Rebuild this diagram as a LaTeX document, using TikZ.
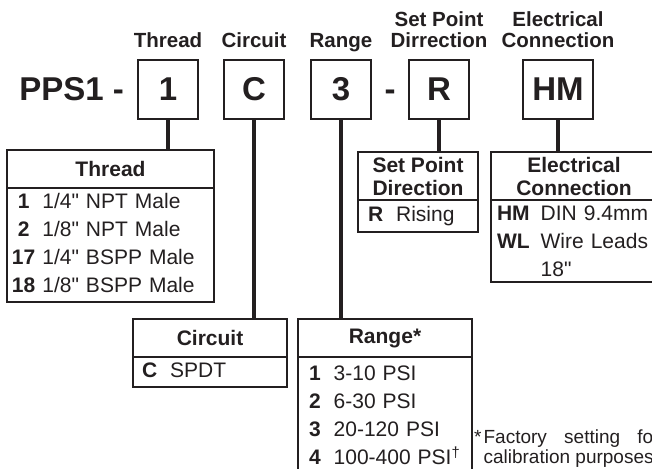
\documentclass[tikz,border=0pt]{standalone}
\usepackage{fontspec}
\setmainfont{Liberation Sans}[Ligatures=TeXOff]
\usepackage{array}
\usetikzlibrary{positioning,calc}
\definecolor{ink}{RGB}{35,31,32}

\begin{document}
\begin{tikzpicture}[x=1pt, y=-1pt, color=ink,
    codebox/.style={rectangle, draw, line width=2pt, minimum width=60pt, minimum height=59pt, inner sep=0pt, font=\fontsize{33}{33}\selectfont\bfseries},
    toplabel/.style={align=center, inner sep=0pt, text depth=0pt, font=\fontsize{20.5}{21}\selectfont\bfseries},
    tablehead/.style={rectangle, draw, line width=2pt, outer sep=0pt, minimum height=38pt, align=center, anchor=north west, font=\fontsize{21}{23}\selectfont\bfseries},
    tablebody/.style={rectangle, draw, line width=2pt, outer sep=0pt, inner ysep=1pt, align=left, anchor=north west, font=\fontsize{21}{28}\selectfont},
    connector/.style={draw, line width=4.5pt}]

    \useasboundingbox (0,0) rectangle (652,468);
    \clip (0,0) rectangle (652,468);

    % part number boxes
    \node [codebox] (bthread) at (168,89.5) {1};
    \node [codebox, right=24pt of bthread] (bcircuit) {C};
    \node [codebox, right=25pt of bcircuit] (brange) {3};
    \node [codebox, right=36pt of brange] (bsetpoint) {R};
    \node [codebox, minimum width=70pt, right=52pt of bsetpoint] (belec) {HM};
    \node [inner sep=0pt, left=13pt of bthread, font=\fontsize{33}{33}\selectfont\bfseries] (model) {PPS1 -};
    \node [inner sep=0pt, anchor=base, font=\fontsize{33}{33}\selectfont\bfseries] (dash)
        at ($(brange.base east)!0.5!(bsetpoint.base west)$) {-};

    \node [toplabel, above=11pt of bthread] (lthread) {Thread};
    \node [toplabel, above=11pt of bcircuit] (lcircuit) {Circuit};
    \node [toplabel, above=11pt of brange] (lrange) {Range};
    \node [toplabel, above=11pt of bsetpoint] (lsetpoint) {Set Point\\Dirrection};
    \node [toplabel, above=11pt of belec] (lelec) {Electrical\\Connection};

    % option tables
    \node [tablehead, minimum width=207pt] (hthread) at (7,150) {Thread};
    \node [tablebody, text width=197pt, inner xsep=5pt] (tthread) at (hthread.south west)
        {\begin{tabular}{@{}>{\bfseries}c@{\hspace{7pt}}l@{}}
        1 & 1/4" NPT Male\\
        2 & 1/8" NPT Male\\
        17 & 1/4" BSPP Male\\
        18 & 1/8" BSPP Male
        \end{tabular}};

    \node [tablehead, minimum width=154pt] (hcircuit) at (133,319) {Circuit};
    \node [tablebody, text width=136pt, inner xsep=9pt] (tcircuit) at (hcircuit.south west)
        {\begin{tabular}{@{}>{\bfseries}l@{\hspace{13pt}}l@{}}
        C & SPDT
        \end{tabular}};

    \node [tablehead, minimum width=174pt] (hrange) at (298,319) {Range*};
    \node [tablebody, text width=152pt, inner xsep=11pt, minimum height=120pt] (trange) at (hrange.south west)
        {\begin{tabular}{@{}>{\bfseries}l@{\hspace{13pt}}l@{}}
        1 & 3-10 PSI\\
        2 & 6-30 PSI\\
        3 & 20-120 PSI\\
        4 & 100-400 PSI\textsuperscript{†}
        \end{tabular}};

    \node [tablehead, minimum width=120pt, minimum height=48pt] (hsetpoint) at (358,152) {Set Point\\Direction};
    \node [tablebody, text width=100pt, inner xsep=10pt, minimum height=32pt] (tsetpoint) at (hsetpoint.south west)
        {\begin{tabular}{@{}>{\bfseries}l@{\hspace{13pt}}l@{}}
        R & Rising
        \end{tabular}};

    \node [tablehead, minimum width=166pt, minimum height=48pt] (helec) at (491,152) {Electrical\\Connection};
    \node [tablebody, text width=154pt, inner xsep=6pt] (telec) at (helec.south west)
        {\begin{tabular}{@{}>{\bfseries}l@{\hspace{11pt}}l@{}}
        HM & DIN 9.4mm\\
        WL & Wire Leads\\
           & 18"\\[-4pt]
        \end{tabular}};

    % connectors
    \path [connector] (bthread.south) -- (bthread.south |- hthread.north);
    \path [connector] (bcircuit.south) -- (bcircuit.south |- hcircuit.north);
    \path [connector] (brange.south) -- (brange.south |- hrange.north);
    \path [connector] (bsetpoint.south) -- (bsetpoint.south |- hsetpoint.north);
    \path [connector] (belec.south) -- (belec.south |- helec.north);

    % footnote, cut by the right edge as in the source
    \node [anchor=base west, inner sep=0pt, font=\fontsize{19}{20}\selectfont] (note) at (474,443)
        {\begin{tabular}[t]{@{}l@{\hspace{2pt}}l@{}}
        * & \makebox[176pt][s]{Factory setting for}\\
          & calibration purposes
        \end{tabular}};
\end{tikzpicture}
\end{document}
